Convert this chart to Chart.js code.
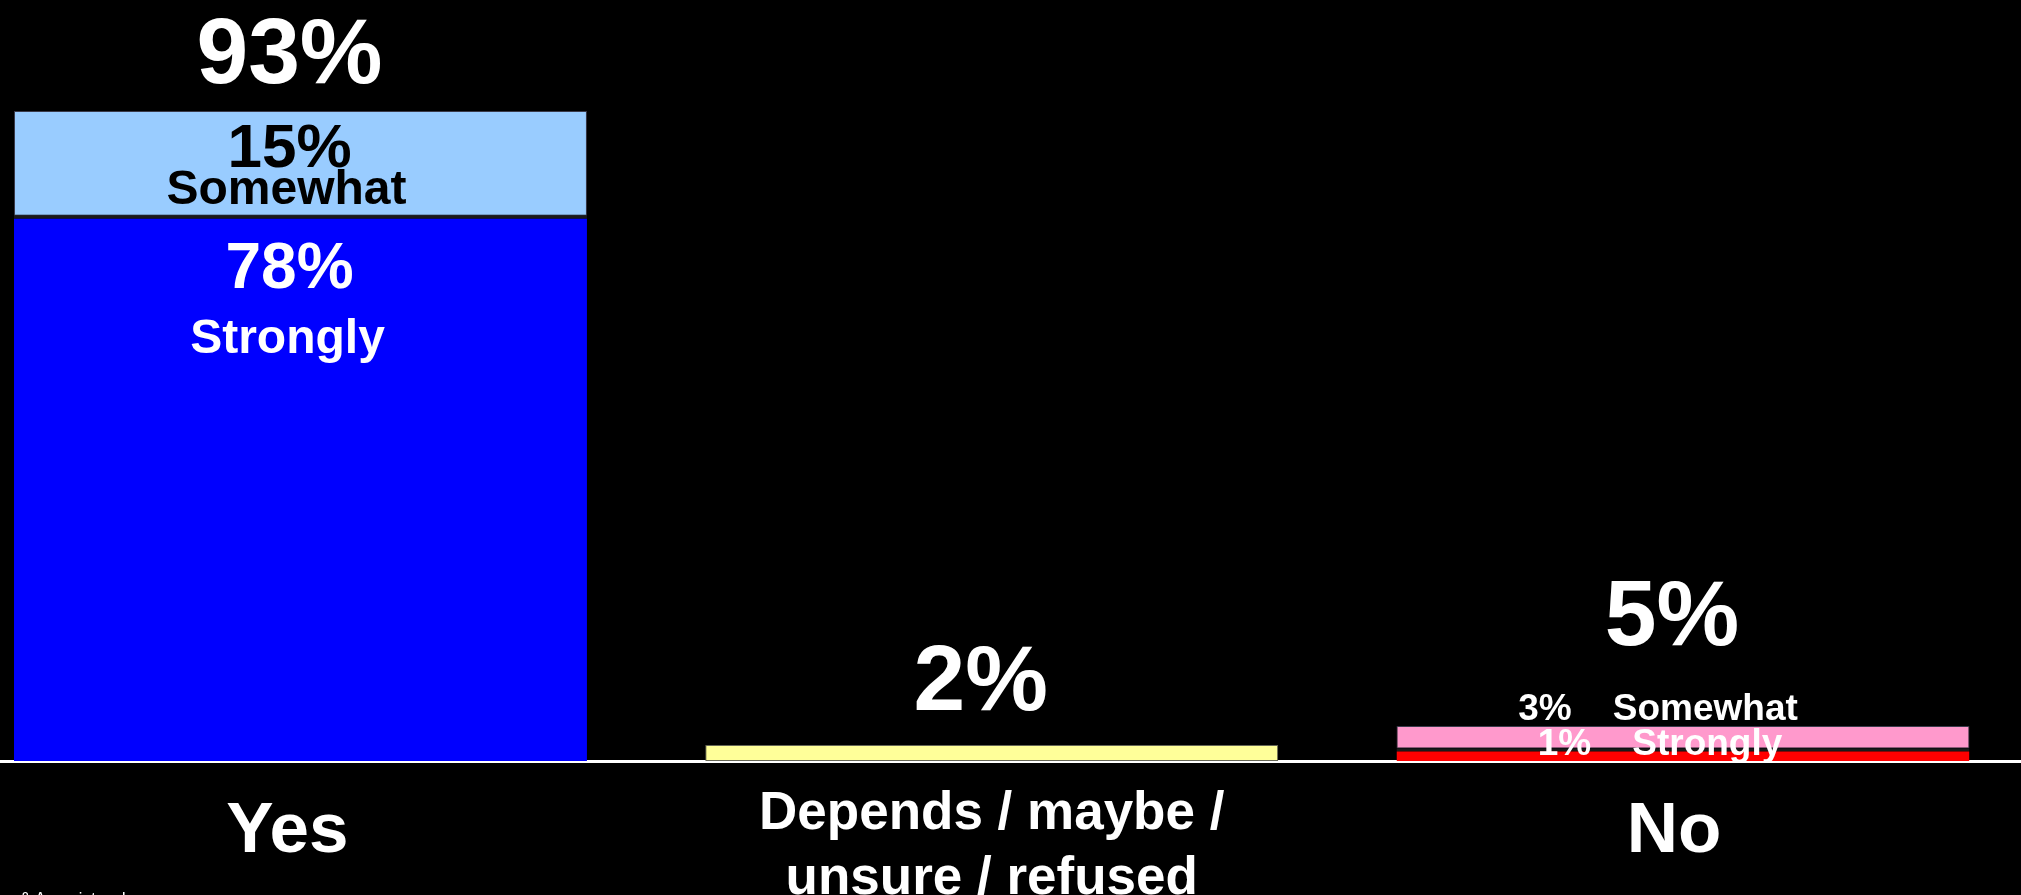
<!DOCTYPE html>
<html>
<head>
<meta charset="utf-8">
<title>Yes / Depends / No</title>
<script src="https://cdn.jsdelivr.net/npm/chart.js@4.4.1/dist/chart.umd.min.js"></script>
<style>
  html, body { margin: 0; padding: 0; background: #000; }
  #wrap { width: 2021px; height: 895px; position: relative; }
</style>
</head>
<body>
<div id="wrap"><canvas id="answerChart"></canvas></div>
<script>
// values (percent of respondents)
const categories = ['Yes', ['Depends / maybe /', 'unsure / refused'], 'No'];
const strongly = [78, null, 1.8];
const somewhat = [15, null, 3.2];
const unsure = [null, 2.3, null];

// printed labels as they appear on the slide
const totalLabels = ['93%', '2%', '5%'];
const stronglyLabels = ['78%', null, '1%'];
const somewhatLabels = ['15%', null, '3%'];

const FONT = '"Liberation Sans", Arial, Helvetica, sans-serif';

function toPoints(arr) {
    return arr.map((v, i) => ({ x: i + 1, y: v }));
}

function bold(size) {
    return 'bold ' + size + 'px ' + FONT;
}

const barLabels = {
    id: 'barLabels',
    afterDraw(chart) {
        const ctx = chart.ctx;
        const xs = chart.scales.x;
        const ys = chart.scales.y;
        ctx.save();
        ctx.textAlign = 'center';
        ctx.textBaseline = 'alphabetic';

        categories.forEach((c, i) => {
            const cx = xs.getPixelForValue(i + 1) - 11;
            const s1 = strongly[i] || 0;
            const s2 = somewhat[i] || 0;
            const u = unsure[i] || 0;
            const top = ys.getPixelForValue(s1 + s2 + u);
            const midTop = ys.getPixelForValue(s1);

            ctx.fillStyle = '#fff';
            ctx.font = bold(93);
            if (i === 0) {
                ctx.fillText(totalLabels[i], cx, top - 28);
                // inside the stacked segments
                ctx.fillStyle = '#000';
                ctx.font = bold(62);
                ctx.fillText(somewhatLabels[i], cx, top + 56);
                ctx.font = bold(48);
                ctx.fillText('Somewhat', cx - 3, top + 93);
                ctx.fillStyle = '#fff';
                ctx.font = bold(64);
                ctx.fillText(stronglyLabels[i], cx, midTop + 72);
                ctx.font = bold(48);
                ctx.fillText('Strongly', cx - 2, midTop + 137);
            } else if (i === 1) {
                ctx.fillText(totalLabels[i], cx, top - 35);
            } else {
                ctx.fillText(totalLabels[i], cx, top - 81);
                ctx.font = bold(37);
                ctx.fillText(somewhatLabels[i] + '    Somewhat', cx - 14, top - 6);
                ctx.fillText(stronglyLabels[i] + '    Strongly', cx - 12, top + 29);
            }
        });

        // source line, mostly cut off at the bottom edge
        ctx.textAlign = 'left';
        ctx.textBaseline = 'top';
        ctx.fillStyle = '#fff';
        ctx.font = '16px ' + FONT;
        ctx.fillText('& Associates, Inc.', 20, 892);
        ctx.restore();
    }
};

const ctx = document.getElementById('answerChart').getContext('2d');
const answerChart = new Chart(ctx, {
    type: 'bar',
    data: {
        datasets: [{
            label: 'Strongly',
            data: toPoints(strongly),
            backgroundColor: ['#0000ff', null, '#ff0000'],
            borderColor: '#1a1a1a',
            borderWidth: { top: 3, left: 0, right: 0, bottom: 0 },
            borderSkipped: false
        }, {
            label: 'Somewhat',
            data: toPoints(somewhat),
            backgroundColor: ['#99ccff', null, '#ff99cc'],
            borderColor: '#3a3a4a',
            borderWidth: 1,
            borderSkipped: false
        }, {
            label: 'Depends',
            data: toPoints(unsure),
            backgroundColor: '#ffff99',
            borderColor: '#666655',
            borderWidth: 1,
            borderSkipped: false
        }]
    },
    options: {
        responsive: true,
        maintainAspectRatio: false,
        animation: false,
        layout: { padding: { top: 62, left: 0, right: 0, bottom: 0 } },
        datasets: {
            // the ruler sees the shifted ticks below, so the percentage is a bit larger
            bar: { categoryPercentage: 1, barPercentage: 0.8398 }
        },
        plugins: {
            legend: { display: false },
            tooltip: { enabled: false }
        },
        scales: {
            x: {
                type: 'linear',
                stacked: true,
                offset: false,
                min: 0.5653,
                max: 3.489,
                z: 1,
                grid: { display: false, offset: false },
                border: { display: true, color: '#fff', width: 3 },
                afterBuildTicks(scale) {
                    // labels sit a touch left of the bar centres on the slide
                    scale.ticks = [0.981, 2, 2.987].map((v) => ({ value: v }));
                },
                afterFit(scale) {
                    scale.height = 134;
                },
                ticks: {
                    color: '#fff',
                    autoSkip: false,
                    maxRotation: 0,
                    padding: 13,
                    font: (c) => ({
                        family: FONT,
                        weight: 'bold',
                        size: c.index === 1 ? 53 : 71,
                        lineHeight: c.index === 1 ? 1.22 : 1.42
                    }),
                    callback: (v) => categories[Math.round(v) - 1]
                }
            },
            y: {
                display: false,
                stacked: true,
                min: 0,
                max: 100
            }
        }
    },
    plugins: [barLabels]
});
</script>
</body>
</html>
